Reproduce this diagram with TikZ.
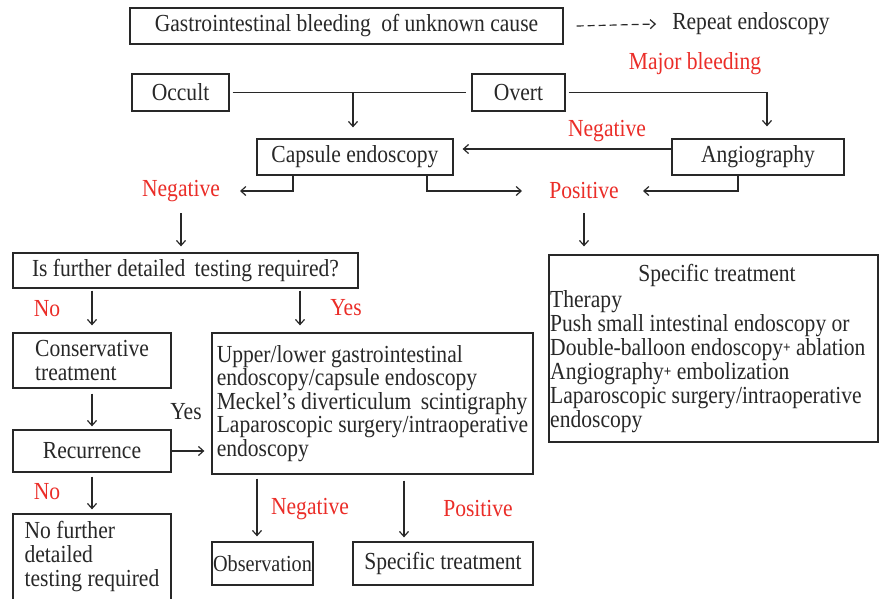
\documentclass[tikz,border=0pt]{standalone}
\usepackage{fontspec}
\setmainfont{Liberation Serif}[FakeStretch=0.88]
\usetikzlibrary{arrows.meta}
\definecolor{lblred}{RGB}{235,45,40}
\definecolor{ink}{RGB}{40,40,40}
\newcommand{\smallplus}{\raisebox{3pt}{\fontsize{15}{15}\selectfont\textbf{+}}}
\begin{document}
\begin{tikzpicture}[x=1pt,y=-1pt,
  font=\fontsize{24.5}{23.5}\selectfont,
  box/.style={draw=ink, line width=1.3pt, inner sep=3pt, text=ink},
  txt/.style={text=ink, inner sep=2pt},
  lbl/.style={text=lblred, inner sep=2pt},
  conn/.style={draw=ink, line width=1.2pt},
  arr/.style={conn, -{Straight Barb[length=5pt,width=9pt]}}]
\useasboundingbox (0,0) rectangle (887,598);
\fill[white] (0,0) rectangle (887,598);

% boxes
\node[box, minimum width=433pt, minimum height=36pt] (top) at (346.5,26) {Gastrointestinal bleeding\hspace{5pt} of unknown cause};
\node[txt] (rep) at (751,24) {Repeat endoscopy};
\node[lbl] (major) at (695,64) {Major bleeding};
\node[box, minimum width=97pt, minimum height=37pt] (occ) at (180.5,92.5) {Occult};
\node[box, minimum width=93pt, minimum height=37pt] (ovt) at (518.5,92.5) {Overt};
\node[box, minimum width=196pt, minimum height=36pt] (cap) at (355,157) {Capsule endoscopy};
\node[box, minimum width=172pt, minimum height=36pt] (angio) at (758,157) {Angiography};
\node[lbl] (neg0) at (607,131) {Negative};
\node[lbl] (neg1) at (181,191) {Negative};
\node[lbl] (pos1) at (584,191) {Positive};
\node[box, minimum width=345pt, minimum height=35pt] (q) at (185.5,270.5) {Is further detailed\hspace{4pt} testing required?};

\node[box, minimum width=329pt, minimum height=187pt] (spec) at (713.5,348.5) {};
\node[txt] (spectitle) at (717,275) {Specific treatment};
\node[txt, anchor=north west, align=left, inner sep=1pt, font=\fontsize{24.5}{24}\selectfont] (speclist) at (549,289)
  {Therapy\\Push small intestinal endoscopy or\\Double-balloon endoscopy\smallplus\ ablation\\Angiography\smallplus\ embolization\\Laparoscopic surgery/intraoperative\\endoscopy};

\node[lbl] (no1) at (47,309) {No};
\node[lbl] (yes1) at (346,308) {Yes};
\node[box, minimum width=158pt, minimum height=55pt, align=left] (cons) at (92,360.5) {Conservative\\treatment};
\node[box, minimum width=321pt, minimum height=141pt, align=left, inner xsep=3pt] (mid) at (372.5,403.5)
  {Upper/lower gastrointestinal\\endoscopy/capsule endoscopy\\Meckel’s diverticulum\hspace{4pt} scintigraphy\\Laparoscopic surgery/intraoperative\\endoscopy};
\node[txt] (yes2) at (186,412) {Yes};
\node[box, minimum width=158pt, minimum height=42pt] (rec) at (92,451) {Recurrence};
\node[lbl] (no2) at (47,492) {No};
\node[box, minimum width=158pt, minimum height=86pt, align=left, font=\fontsize{24.5}{24}\selectfont] (nof) at (92,557) {No further\\detailed\\testing required};
\node[lbl] (neg2) at (310,509) {Negative};
\node[lbl] (pos2) at (478,509) {Positive};
\node[box, minimum width=101pt, minimum height=43pt, inner xsep=1pt, font=\fontsize{23}{23}\selectfont] (obs) at (262.5,563.5) {Observation};
\node[box, minimum width=180pt, minimum height=43pt] (sp2) at (443,563.5) {Specific treatment};

% connectors
\draw[conn, dashed, dash pattern=on 7pt off 4pt, -{Straight Barb[length=5pt,width=9pt]}] ([xshift=13pt]top.east) -- ([xshift=-14pt]rep.west);
\draw[conn] ([xshift=3pt]occ.east) -- ([xshift=-5pt]ovt.west);
\coordinate (j1) at (353,92.5);
\draw[arr, shorten >=11pt] (j1) -- (j1 |- cap.north);
\draw[arr, shorten <=3pt] (ovt.east) -| ([xshift=9pt,yshift=12pt]angio.north);
\draw[arr] ([yshift=8pt]angio.west) -- ([xshift=9pt,yshift=8pt]cap.east);
\draw[arr] ([xshift=-62pt]cap.south) |- ([xshift=59pt]neg1.center);
\draw[arr] ([xshift=72pt]cap.south) |- ([xshift=-62pt]pos1.center);
\draw[arr] ([xshift=-20pt]angio.south) |- ([xshift=59pt]pos1.center);
\draw[arr, shorten >=6pt] ([yshift=-22pt]neg1.center) -- (neg1.center |- q.north);
\draw[arr, shorten >=8pt] ([yshift=-22pt]pos1.center) -- (pos1.center |- spec.north);
\draw[arr, shorten <=2pt, shorten >=7pt] (cons.north |- q.south) -- (cons.north);
\path ([xshift=-72.5pt]mid.north) coordinate (m1);
\draw[arr, shorten <=2pt, shorten >=7pt] (m1 |- q.south) -- (m1);
\draw[arr, shorten <=5pt, shorten >=3pt] (cons.south) -- (rec.north);
\draw[arr, shorten >=7pt] (rec.east) -- (rec.east -| mid.west);
\draw[arr, shorten <=4pt, shorten >=4pt] (rec.south) -- (nof.north);
\path ([xshift=-5.5pt]obs.north) coordinate (o1);
\draw[arr, shorten <=4pt, shorten >=5pt] (o1 |- mid.south) -- (o1);
\path ([xshift=-39pt]sp2.north) coordinate (s1);
\draw[arr, shorten <=6pt, shorten >=4pt] (s1 |- mid.south) -- (s1);
\end{tikzpicture}
\end{document}
